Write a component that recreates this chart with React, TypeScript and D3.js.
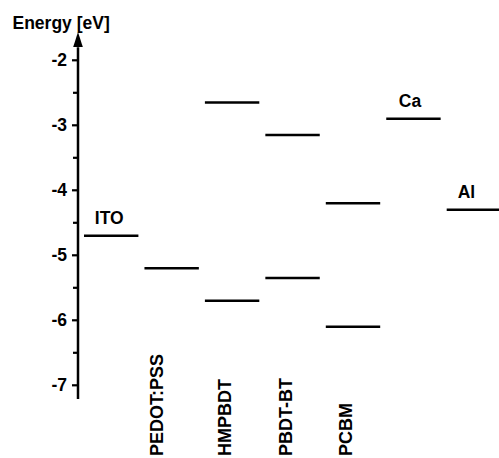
import React, { useEffect, useRef } from 'react';
import * as d3 from 'd3';

// materials, left to right
const materials = ['ITO', 'PEDOT:PSS', 'HMPBDT', 'PBDT-BT', 'PCBM', 'Ca', 'Al'];
// energy levels in eV (one or two per material)
const upperLevels = [-4.7, -5.2, -2.65, -3.15, -4.2, -2.9, -4.3];
const lowerLevels = [null, null, -5.7, -5.35, -6.1, null, null];
// which labels sit above the line, which are rotated under the plot
const topLabels = ['ITO', 'Ca', 'Al'];
const rotatedLabels = ['PEDOT:PSS', 'HMPBDT', 'PBDT-BT', 'PCBM'];
const majorTicks = [-2, -3, -4, -5, -6, -7];
const minorTicks = [-2.5, -3.5, -4.5, -5.5, -6.5];

const EnergyDiagram: React.FC = () => {
  const svgRef = useRef<SVGSVGElement>(null);

  useEffect(() => {
    if (!svgRef.current) return;
    const svg = d3.select(svgRef.current);
    svg.selectAll('*').remove();

    const font = 'Liberation Sans, Arial, sans-serif';
    const axisX = 78;

    const y = d3.scaleLinear().domain([-2, -7]).range([60.3, 385.3]);
    const x = d3.scaleBand<string>()
      .domain(materials)
      .range([84, 501.1])
      .paddingInner(0.1)
      .paddingOuter(0);

    // axis line with arrow
    svg.append('line')
      .attr('x1', axisX).attr('x2', axisX)
      .attr('y1', y(-1.8)).attr('y2', y(-7.21))
      .attr('stroke', '#000').attr('stroke-width', 2.5);
    const tipY = y(-1.565);
    svg.append('path')
      .attr('d', `M${axisX},${tipY} L${axisX - 4.8},${tipY + 15} L${axisX + 4.8},${tipY + 15} Z`)
      .attr('fill', '#000');

    // ticks
    svg.append('g').selectAll('line')
      .data(majorTicks)
      .join('line')
      .attr('x1', axisX - 6).attr('x2', axisX)
      .attr('y1', d => y(d)).attr('y2', d => y(d))
      .attr('stroke', '#000').attr('stroke-width', 2.2);
    svg.append('g').selectAll('line')
      .data(minorTicks)
      .join('line')
      .attr('x1', axisX - 5).attr('x2', axisX)
      .attr('y1', d => y(d)).attr('y2', d => y(d))
      .attr('stroke', '#000').attr('stroke-width', 2.2);

    svg.append('g')
      .attr('font-family', font)
      .attr('font-size', 17.5)
      .attr('font-weight', 'bold')
      .attr('text-anchor', 'end')
      .selectAll('text')
      .data(majorTicks)
      .join('text')
      .attr('x', axisX - 11)
      .attr('y', d => y(d) + 6)
      .text(d => `${d}`);

    // axis title
    svg.append('text')
      .attr('x', 12.5).attr('y', 29)
      .attr('font-family', font).attr('font-size', 17.5).attr('font-weight', 'bold')
      .text('Energy [eV]');

    // levels
    const levels = materials.flatMap((m, i) => {
      const out = [{ m, v: upperLevels[i] as number }];
      if (lowerLevels[i] !== null) out.push({ m, v: lowerLevels[i] as number });
      return out;
    });
    svg.append('g').selectAll('line')
      .data(levels)
      .join('line')
      .attr('x1', d => x(d.m)!)
      .attr('x2', d => x(d.m)! + x.bandwidth())
      .attr('y1', d => y(d.v)).attr('y2', d => y(d.v))
      .attr('stroke', '#000').attr('stroke-width', 2.4);

    // labels above the line
    const nudge: Record<string, number> = { ITO: -2, Ca: -3.5, Al: -7.5 };
    svg.append('g')
      .attr('font-family', font).attr('font-size', 17.5).attr('font-weight', 'bold')
      .attr('text-anchor', 'middle')
      .selectAll('text')
      .data(topLabels)
      .join('text')
      .attr('x', d => x(d)! + x.bandwidth() / 2 + nudge[d])
      .attr('y', d => y(upperLevels[materials.indexOf(d)]) - 12)
      .text(d => d);

    // rotated labels
    svg.append('g')
      .attr('font-family', font).attr('font-size', 18).attr('font-weight', 'bold')
      .selectAll('text')
      .data(rotatedLabels)
      .join('text')
      .attr('transform', d => `translate(${x(d)! + (d === 'PEDOT:PSS' ? 19 : 26.5)},456) rotate(-90)`)
      .text(d => d);
  }, []);

  return (
    <svg ref={svgRef} width={499} height={458}
      style={{ position: 'absolute', left: 0, top: 0, background: '#fff' }} />
  );
};

export default function App() {
  return <EnergyDiagram />;
}
